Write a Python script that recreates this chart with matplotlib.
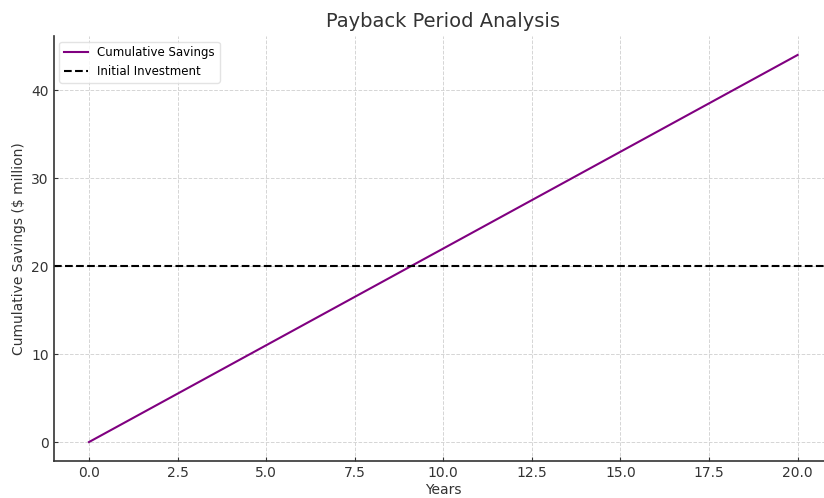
import matplotlib
matplotlib.use('Agg')
import matplotlib.pyplot as plt

years = [0, 20]
savings = [0, 44]
investment = 20

fig = plt.figure(figsize=(8.24, 4.98), dpi=100)
ax = fig.add_axes([0.065, 0.0735, 0.946, 0.855])

ax.plot(years, savings, color="purple", lw=1.5, label="Cumulative Savings")
ax.axhline(investment, color="black", ls="--", lw=1.5, label="Initial Investment")

ax.set_xlim(-1, 21)
ax.set_ylim(-2.2, 46.2)
ax.set_xticks([0, 2.5, 5, 7.5, 10, 12.5, 15, 17.5, 20])
ax.set_yticks([0, 10, 20, 30, 40])

ax.set_title("Payback Period Analysis", fontsize=14, color="#333333")
ax.set_xlabel("Years", fontsize=10, color="#333333", labelpad=2)
ax.set_ylabel("Cumulative Savings ($ million)", fontsize=10, color="#333333")
ax.tick_params(direction="in", labelsize=10, colors="#333333", length=3)
ax.grid(True, ls="--", color="#d5d5d5", lw=0.7)
for s in ["top", "right"]:
    ax.spines[s].set_visible(False)
for s in ["left", "bottom"]:
    ax.spines[s].set_color("#333333")
    ax.spines[s].set_linewidth(1.2)

ax.legend(loc="upper left", fontsize=8.5, edgecolor="#dddddd")

fig.savefig("out.png", dpi=100)
plt.close()
